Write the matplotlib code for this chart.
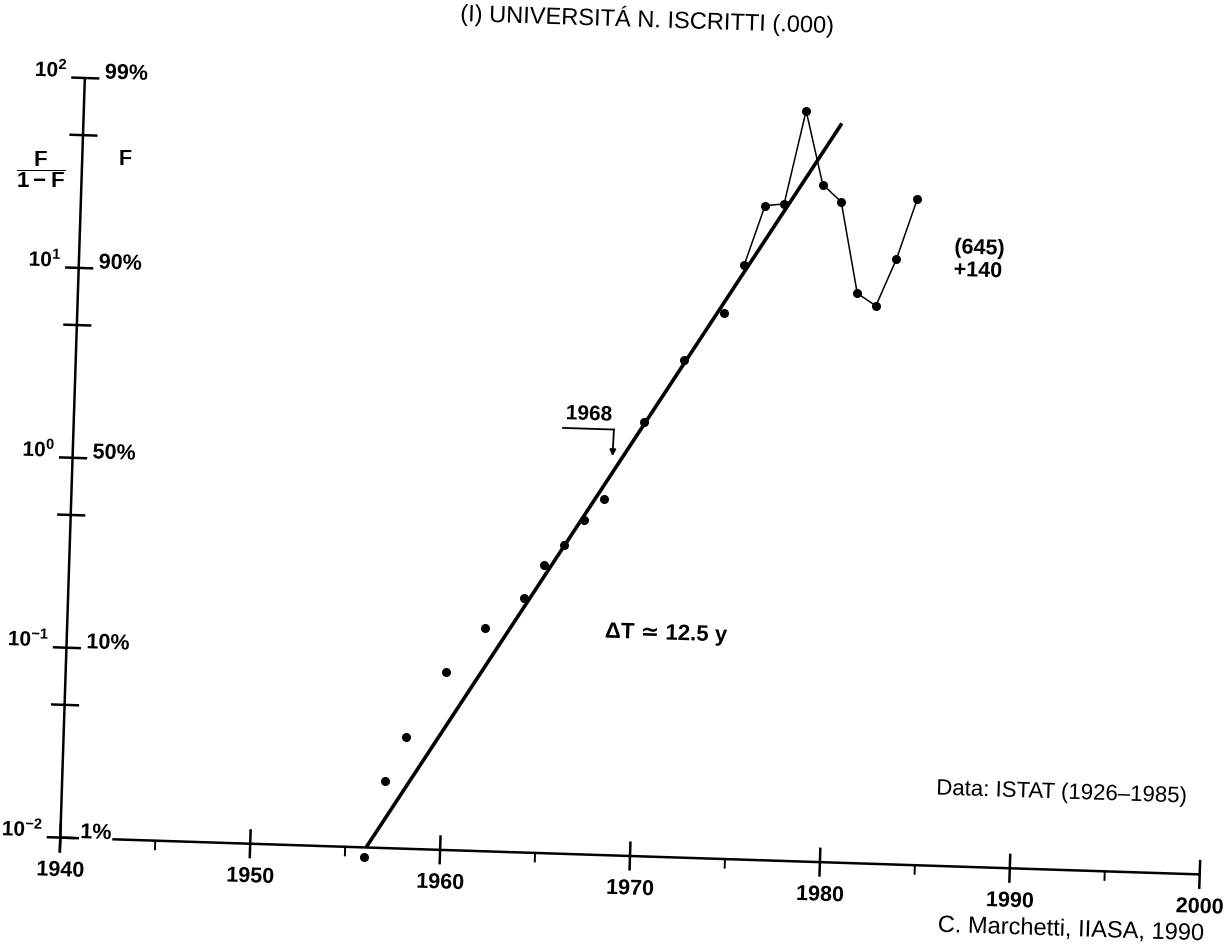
import numpy as np
import matplotlib
matplotlib.use("Agg")
import matplotlib.pyplot as plt
import matplotlib.patheffects as pe
from matplotlib.transforms import Affine2D, IdentityTransform, blended_transform_factory
from matplotlib.scale import LogTransform
from mpl_toolkits.axisartist.floating_axes import FloatingAxes, GridHelperCurveLinear
from mpl_toolkits.axisartist.grid_finder import FixedLocator

plt.rcParams['font.family'] = ['Liberation Sans', 'DejaVu Sans']
plt.rcParams['mathtext.fontset'] = 'custom'
plt.rcParams['mathtext.rm'] = 'Liberation Sans'
plt.rcParams['mathtext.bf'] = 'Liberation Sans:bold'
plt.rcParams['mathtext.fallback'] = 'stixsans'

# ---------------- data ----------------
years = [1956, 1957, 1958, 1960, 1962, 1964, 1965, 1966, 1967, 1968, 1970, 1972, 1974,
         1975, 1976, 1977, 1978, 1979, 1980, 1981, 1982, 1983, 1984]
ratio = [0.0089, 0.0226, 0.0388, 0.0865, 0.150, 0.218, 0.327, 0.420, 0.573, 0.750, 1.93,
         4.13, 7.49, 13.4, 27.8, 28.6, 89.1, 36.7, 30.0, 9.96, 8.63, 15.3, 32.0]
connected_from = 1975          # points joined by the thin line
fit_years = [1956.1, 1979.9]   # logistic fit (straight line in F/(1-F) log scale)
fit_ratio = [0.01, 77.6]

x_major = [1940, 1950, 1960, 1970, 1980, 1990, 2000]
x_labels = ['1940', '1950', '1960', '1970', '1980', '1990', '2000']
x_minor = [1945, 1955, 1965, 1975, 1985, 1995]
y_major = [0.01, 0.1, 1, 10, 100]
y_minor = [0.05, 0.5, 5, 50]
y_left_labels = [r'$\mathbf{10^{-2}}$', r'$\mathbf{10^{-1}}$', r'$\mathbf{10^{0}}$',
                 r'$\mathbf{10^{1}}$', r'$\mathbf{10^{2}}$']
y_right_labels = ['1%', '10%', '50%', '90%', '99%']

mid_year_label = '1968'
mid_year_arrow = [(1965.75, 1.74), (1968.43, 1.74), (1968.40, 1.26)]
mid_year_text_pos = (1967.1, 2.07)

title = '(I) UNIVERSIT\u00c1 N. ISCRITTI (.000)'
note_dt = '\u0394T \u2243 12.5 y'
note_sat = '(645)\n+140'
note_data = 'Data: ISTAT (1926\u20131985)'
note_credit = 'C. Marchetti, IIASA, 1990'

# ---------------- geometry (scan is slightly rotated) ----------------
W, H, DPI = 1231, 949, 100
ANGLE = -1.85          # degrees
PX = 19.0              # pixels per year (= per 0.1 decade)
ORIGIN_DATA = (1970, 0.01)
ORIGIN_PX = (630, H - 856)
SMOOTH = [pe.Normal()]  # draw rotated text as outlines (no glyph snapping)

aux_tr = (blended_transform_factory(IdentityTransform(), LogTransform(10))
          + Affine2D().scale(1, 10).rotate_deg(ANGLE))
gh = GridHelperCurveLinear(aux_tr,
                           extremes=(x_major[0], x_major[-1], y_major[0], y_major[-1]),
                           grid_locator1=FixedLocator(x_major),
                           grid_locator2=FixedLocator(y_major))

fig = plt.figure(figsize=(W / DPI, H / DPI), dpi=DPI)
fig.patch.set_facecolor('white')
ax = fig.add_axes([0, 0, 1, 1], axes_class=FloatingAxes, grid_helper=gh)
ax.axis[:].set_visible(False)
ax.patch.set_visible(False)
rx, ry = aux_tr.transform([ORIGIN_DATA])[0]
ax.set_xlim(rx - ORIGIN_PX[0] / PX, rx + (W - ORIGIN_PX[0]) / PX)
ax.set_ylim(ry - ORIGIN_PX[1] / PX, ry + (H - ORIGIN_PX[1]) / PX)
aux = ax.get_aux_axes(aux_tr)

K = 'black'
ALW = 1.8
# axis lines
aux.plot([x_major[0], x_major[0]], [y_major[0] * 10 ** -0.08, y_major[-1]],
         color=K, lw=ALW, clip_on=False, solid_capstyle='butt')
aux.plot([x_major[0], x_major[-1]], [y_major[0], y_major[0]],
         color=K, lw=ALW, clip_on=False, solid_capstyle='butt')
# x ticks
for t in x_major:
    aux.plot([t, t], [y_major[0] * 10 ** -0.07, y_major[0] * 10 ** 0.07],
             color=K, lw=ALW, clip_on=False)
for t in x_minor:
    aux.plot([t, t], [y_major[0] * 10 ** -0.045, y_major[0]],
             color=K, lw=1.4, clip_on=False)
# y ticks
for v in y_major + y_minor:
    aux.plot([x_major[0] - 0.65, x_major[0] + 0.7], [v, v], color=K, lw=ALW, clip_on=False)

# tick labels
for t, lab in zip(x_major, x_labels):
    aux.annotate(lab, xy=(t, y_major[0]), xytext=(0, -33), textcoords='offset pixels',
                 ha='center', va='center', fontsize=15.5, fontweight='bold',
                 rotation=ANGLE, rotation_mode='anchor', path_effects=SMOOTH)
for v, lab in zip(y_major, y_left_labels):
    aux.annotate(lab, xy=(x_major[0], v), xytext=(-17, 8), textcoords='offset pixels',
                 ha='right', va='center', fontsize=15,
                 rotation=ANGLE, rotation_mode='anchor', path_effects=SMOOTH)
for v, lab in zip(y_major, y_right_labels):
    aux.annotate(lab, xy=(x_major[0], v), xytext=(20, 5), textcoords='offset pixels',
                 ha='left', va='center', fontsize=15.5, fontweight='bold',
                 rotation=ANGLE, rotation_mode='anchor', path_effects=SMOOTH,
                 bbox=dict(boxstyle='square,pad=0.05', fc='white', ec='none'))

# data
aux.plot(fit_years, fit_ratio, color=K, lw=2.6, solid_capstyle='butt', clip_on=False)
sel = [i for i, y in enumerate(years) if y >= connected_from]
aux.plot([years[i] for i in sel], [ratio[i] for i in sel], color=K, lw=1.1, clip_on=False)
aux.plot(years, ratio, 'o', color=K, ms=5.5, clip_on=False)

# 1968 marker
aux.plot([p[0] for p in mid_year_arrow[:2]], [p[1] for p in mid_year_arrow[:2]],
         color=K, lw=1.3)
aux.annotate('', xy=mid_year_arrow[2], xytext=mid_year_arrow[1],
             arrowprops=dict(arrowstyle='-|>', color=K, lw=1.3, mutation_scale=9,
                             shrinkA=0, shrinkB=0))
aux.text(*mid_year_text_pos, mid_year_label, ha='center', va='center', fontsize=15,
         fontweight='bold', rotation=ANGLE, rotation_mode='anchor', path_effects=SMOOTH)


def fx(x):
    return x / W


def fy(y):
    return 1 - y / H


fig.text(fx(647), fy(19), title, ha='center', va='center', fontsize=17,
         rotation=ANGLE, rotation_mode='anchor', path_effects=SMOOTH)
fig.text(fx(41), fy(170), r'$\dfrac{\mathbf{F}}{\mathbf{1-F}}$', ha='center', va='center',
         fontsize=16)
fig.text(fx(125), fy(160), 'F', ha='center', va='center', fontsize=15.5, fontweight='bold')
fig.text(fx(954), fy(259), note_sat, ha='left', va='center', fontsize=15.5,
         fontweight='bold', linespacing=1.1, rotation=ANGLE, rotation_mode='anchor',
         path_effects=SMOOTH)
fig.text(fx(666), fy(634), note_dt, ha='center', va='center', fontsize=16,
         fontweight='bold', rotation=ANGLE, rotation_mode='anchor', path_effects=SMOOTH)
fig.text(fx(1062), fy(793), note_data, ha='center', va='center', fontsize=16,
         rotation=ANGLE, rotation_mode='anchor', path_effects=SMOOTH)
fig.text(fx(1071), fy(930), note_credit, ha='center', va='center', fontsize=17,
         rotation=ANGLE, rotation_mode='anchor', path_effects=SMOOTH)

fig.savefig('out.png', dpi=DPI, facecolor='white')
